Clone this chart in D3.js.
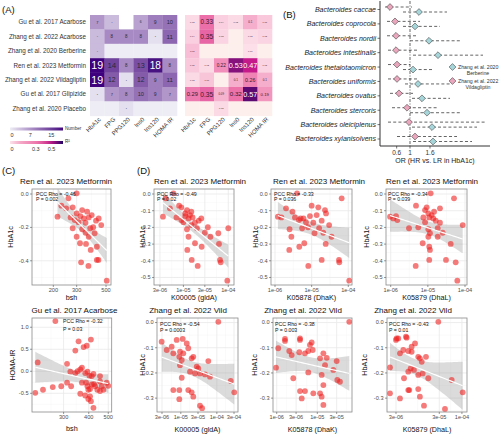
<!DOCTYPE html>
<html><head><meta charset="utf-8">
<script src="https://cdn.jsdelivr.net/npm/d3@7"></script>
<style>body{margin:0;background:#fff} svg{font-family:"Liberation Sans",Arial,sans-serif}</style>
</head><body><svg id="c" width="500" height="434"></svg>
<script>
// ---------------- DATA ----------------
const studies = ["Gu et al. 2017 Acarbose","Zhang et al. 2022 Acarbose","Zhang et al. 2020 Berberine","Ren et al. 2023 Metformin","Zhang et al. 2022 Vildagliptin","Gu et al. 2017 Glipizide","Zhang et al. 2020 Placebo"];
const measures = ["HbA1c","FPG","PPG120","Ins0","Ins120","HOMA IR"];
const numberValues = [
  [7,4,null,6,9,10],
  [4,8,8,8,1,11],
  [4,0,0,0,0,0],
  [19,14,8,13,18,8],
  [19,12,1,12,9,11],
  [1,7,8,10,9,7],
  [0,0,1,0,0,0]];
const r2Values = [
  [0.02,0.33,0.04,0.02,0.1,0.05],
  [0.04,0.35,0.03,null,0.02,0.03],
  [0.07,null,null,null,0.01,null],
  [0.05,0.02,0.22,0.53,0.47,0.03],
  [0.02,0.06,null,0.1,0.26,0.1],
  [0.29,0.35,0.09,0.32,0.57,0.19],
  [null,null,0.02,null,null,null]];
const numberLegendTicks = [0,7,15];
const r2LegendTicks = [0,0.3,0.5];

const taxa = ["Bacteroides caccae","Bacteroides coprocola","Bacteroides nordii","Bacteroides intestinalis","Bacteroides thetaiotaomicron","Bacteroides uniformis","Bacteroides ovatus","Bacteroides stercoris","Bacteroides oleiciplenus","Bacteroides xylanisolvens"];
const vildOR = [0.40,0.55,0.58,0.58,0.61,0.61,0.67,0.91,0.97,1.15];
const vildLo = [0.25,0.31,0.31,0.34,0.34,0.34,0.40,0.46,0.34,0.61];
const vildHi = [1.06,1.30,1.21,1.21,1.00,1.21,1.09,1.84,3.25,2.41];
const berbOR = [1.27,1.15,1.57,1.84,1.09,1.24,1.36,1.51,1.66,1.69];
const berbLo = [0.79,0.79,1.00,1.09,0.79,0.85,1.06,1.00,1.06,1.09];
const berbHi = [2.11,1.90,2.50,3.19,1.66,2.20,2.20,2.50,3.01,2.86];
const orTicks = [0.6,1,1.6];

// Ren et al. 2023 Metformin (shared HbA1c)
const renHbA1c = [0.004,-0.026,-0.070,-0.096,-0.080,-0.106,-0.086,-0.116,-0.126,-0.146,-0.160,-0.169,-0.140,-0.140,-0.172,-0.199,-0.211,-0.136,-0.146,-0.156,-0.132,-0.205,-0.205,-0.232,-0.186,-0.235,-0.256,-0.256,-0.295,-0.316,-0.335,-0.299,-0.431,-0.395,-0.395,-0.409,-0.519];
const renBsh = [300,260,230,330,280,360,250,300,390,340,420,310,270,370,350,400,330,215,440,290,320,280,380,350,460,410,300,370,318,426,383,353,368,426,438,324,506];
const renK00005 = [6e-6,4e-6,8e-6,1.2e-5,9e-6,1.5e-5,5e-6,1.1e-5,1.4e-5,1.3e-5,2.2e-5,1.0e-5,7e-6,1.6e-5,1.8e-5,3.5e-5,1.2e-5,3.5e-6,2.5e-5,9e-6,1.1e-5,2.0e-5,1.0e-4,3.0e-5,1.5e-5,6.0e-5,1.3e-5,4.0e-5,1.81e-5,2.55e-5,1.22e-5,6.2e-5,2.08e-5,1.53e-5,6.53e-5,6.77e-5,9.5e-5];
const renK05878 = [4e-6,6.6e-5,1.0e-5,2.31e-5,1.52e-5,3e-6,2e-6,2.47e-5,1.37e-5,5e-6,1.88e-5,7e-6,1.5e-6,3.5e-6,1.11e-5,8e-6,2.5e-6,1.2e-6,6e-6,4.5e-6,9e-6,1.6e-5,5.5e-6,2.08e-5,3e-5,1.2e-5,3.5e-5,2.8e-6,6.3e-6,4.6e-6,2.45e-6,2.42e-5,8.1e-6,1.88e-5,5.57e-5,5.67e-5,1.06e-4];
const renK05879 = [1.19e-5,5.06e-5,4.8e-6,8.4e-6,9.3e-6,1.47e-5,2.12e-5,1.03e-5,1.27e-5,1.4e-5,1.63e-5,8.4e-6,7.55e-6,1.09e-5,2.12e-5,5.53e-6,1.03e-5,9.6e-7,1.17e-6,1.51e-6,1.39e-6,3.11e-6,1.84e-5,2.51e-5,8.67e-5,1.14e-5,1.03e-5,1.84e-5,7.26e-6,1.09e-5,1.14e-5,4.12e-5,4.71e-6,1.09e-5,3.08e-5,5.62e-5,6.21e-5];

// Gu et al. 2017 Acarbose
const guBsh = [273,356,410,391,343,377,223,312,370,324,343,352,363,384,394,422,403,414,455,217,237,265,292,327,363,370,388,394,398,406,414,425,430,441,464,473,491,384,406,398,410,422,455,455,500,312];
const guHomaIR = [1.14,0.68,0.72,0.58,0.47,0.55,0.20,0.17,0.08,-0.01,-0.04,0.0,0.04,-0.04,-0.01,-0.06,-0.10,-0.11,-0.11,-0.49,-0.42,-0.36,-0.34,-0.34,-0.51,-0.26,-0.26,-0.34,-0.42,-0.40,-0.30,-0.29,-0.34,-0.42,-0.34,-0.42,-0.26,-0.55,-0.57,-0.63,-0.68,-0.83,-0.45,-0.23,-0.33,-0.26];

// Zhang et al. 2022 Vildagliptin  [abundance, HbA1c]
const zhangK00005 = [[2.94e-6,-0.076],[4.06e-6,-0.109],[5.57e-6,-0.096],[7.67e-6,-0.069],[1.13e-5,-0.065],[1.46e-5,-0.083],[1.61e-5,-0.102],[6.18e-6,-0.122],[9.5e-6,-0.116],[1.17e-5,-0.122],[9.08e-6,-0.136],[1.06e-5,-0.149],[2.0e-5,-0.142],[2.22e-5,-0.136],[9.5e-6,-0.169],[2.76e-5,-0.175],[3.05e-5,-0.182],[5.8e-5,-0.153],[1.8e-5,-0.195],[2.48e-5,-0.202],[3.41e-5,-0.202],[4.69e-5,-0.206],[6.46e-5,-0.215],[1.06e-5,-0.219],[2.43e-4,-0.232],[3.05e-4,-0.277],[6.18e-6,-0.268],[9.08e-6,-0.268],[1.61e-5,-0.268],[2.0e-5,-0.277],[9.08e-6,-0.304],[2.22e-5,-0.294],[3.41e-5,-0.330],[3.9e-5,-0.340],[1.1e-4,0.003]];
const zhangK05878 = [[9.6e-7,-0.179],[1.09e-6,-0.102],[1.6e-6,-0.073],[2.04e-6,-0.113],[2.34e-6,-0.129],[3.75e-6,-0.069],[3.6e-6,-0.118],[4.97e-6,-0.122],[6.0e-6,-0.113],[6.6e-6,-0.089],[7.27e-6,-0.079],[7.7e-6,-0.109],[2.56e-6,-0.221],[3.75e-6,-0.272],[4.97e-6,-0.272],[4.13e-6,-0.301],[7.97e-6,-0.281],[6.0e-6,-0.198],[1.17e-5,-0.142],[1.41e-5,-0.122],[1.71e-5,-0.140],[3.0e-5,-0.153],[1.55e-5,-0.169],[1.28e-5,-0.208],[2.48e-5,-0.188],[3.11e-5,-0.228],[3.62e-5,-0.235],[1.28e-5,-0.294],[1.41e-5,-0.327],[1.41e-5,-0.248],[1.17e-5,-0.281],[6.14e-5,0.003],[1.6e-6,-0.065],[3.75e-6,-0.063]];
const zhangK05879 = [[3.0e-6,-0.069],[3.39e-6,-0.063],[5.1e-6,-0.056],[6.9e-6,-0.096],[8.25e-6,-0.083],[5.77e-6,-0.113],[4.42e-6,-0.109],[3.71e-6,-0.122],[6.9e-6,-0.116],[9.8e-6,-0.136],[1.07e-5,-0.142],[1.48e-5,-0.136],[1.18e-5,-0.156],[2.18e-6,-0.178],[6.55e-6,-0.182],[7.8e-6,-0.188],[4.6e-6,-0.221],[5.77e-6,-0.195],[9.8e-6,-0.208],[1.24e-5,-0.202],[1.67e-5,-0.221],[5.77e-6,-0.268],[6.08e-6,-0.268],[3.71e-6,-0.301],[2.18e-6,-0.281],[1.07e-5,-0.294],[1.33e-5,-0.330],[9.8e-6,-0.264],[4.06e-5,-0.343],[1.04e-4,-0.277],[5.8e-5,-0.228],[2.85e-5,0.003],[3.1e-6,-0.063],[5.3e-6,-0.060]];

// ---------------- DRAW ----------------
const svg = d3.select("#c");
const fmtSigned = d => (Math.abs(d) < 1e-9 ? "0.0" : d3.format(".1f")(d).replace("\u2212","-"));
const fmtExp = d => { const e = d.toExponential(0); const m = e.match(/^(\d)e([+-])(\d+)$/); return m[1]+"e"+m[2]+(m[3].length<2?"0"+m[3]:m[3]); };

function panelLabel(t,x,y){ svg.append("text").attr("x",x).attr("y",y).attr("font-size",9.5).attr("fill","#111").text(t); }
panelLabel("(A)",2,13); panelLabel("(B)",283,18); panelLabel("(C)",2,174); panelLabel("(D)",137,174);

// ---- Panel A heatmaps ----
const cellW = 14.5, cellH = 14.4, hmTop = 15;
const yRow = d3.scaleBand().domain(studies).range([hmTop, hmTop + studies.length*cellH]);
const xNum = d3.scaleBand().domain(measures).range([90, 90 + measures.length*cellW]);
const xR2 = d3.scaleBand().domain(measures).range([185, 185 + measures.length*cellW]);
const numColor = d3.scaleLinear().domain([0,19]).range(["#eeedf5","#3f007d"]).interpolate(d3.interpolateLab);
const r2Color = d3.scaleLinear().domain([0,0.1,0.33,0.47,0.57]).range(["#fce4ec","#f5aecb","#ec6fa9","#c51b8a","#5c0a72"]).interpolate(d3.interpolateLab);

const gA = svg.append("g");
gA.selectAll("text.row").data(studies).join("text").attr("class","row")
  .attr("x",86).attr("y",d=>yRow(d)+cellH/2).attr("dy","0.35em").attr("text-anchor","end")
  .attr("font-size",6.3).attr("fill","#333").text(d=>d);

studies.forEach((s,i)=>{
  measures.forEach((m,j)=>{
    const v = numberValues[i][j];
    gA.append("rect").attr("x",xNum(m)).attr("y",yRow(s)).attr("width",cellW+0.3).attr("height",cellH+0.3)
      .attr("fill", v==null ? "#ffffff" : numColor(v));
    if (v!=null && v>0) gA.append("text").attr("x",xNum(m)+cellW/2).attr("y",yRow(s)+cellH/2).attr("dy","0.36em")
      .attr("text-anchor","middle").attr("font-size",Math.max(2.2,0.56*v)).attr("fill", v>=15?"#fff":"#2a2a3a").text(v);
    const r = r2Values[i][j];
    gA.append("rect").attr("x",xR2(m)).attr("y",yRow(s)).attr("width",cellW+0.3).attr("height",cellH+0.3)
      .attr("fill", r==null ? "#fdf0ec" : r2Color(r));
    if (r!=null) gA.append("text").attr("x",xR2(m)+cellW/2).attr("y",yRow(s)+cellH/2).attr("dy","0.36em")
      .attr("text-anchor","middle").attr("font-size",Math.min(7.3,Math.max(2.2,1.4+15*r))).attr("fill", r>=0.45?"#fff":"#3a1a2a").text(String(+r.toFixed(2)));
  });
});
const hmBottom = hmTop + studies.length*cellH;
[xNum,xR2].forEach(xs=>{
  gA.selectAll(null).data(measures).join("text")
    .attr("transform",d=>`translate(${xs(d)+cellW/2+4},${hmBottom+4}) rotate(-45)`)
    .attr("text-anchor","end").attr("font-size",6).attr("fill","#333").text(d=>d);
});
// legends
const defs = svg.append("defs");
function gradLegend(id, scale, domMax, y, ticks, title, tickFmt){
  const lg = defs.append("linearGradient").attr("id",id);
  d3.range(0,1.0001,0.1).forEach(t=>lg.append("stop").attr("offset",t).attr("stop-color",scale(t*domMax)));
  const lx = d3.scaleLinear().domain([0,domMax]).range([12,61]);
  svg.append("rect").attr("x",10).attr("y",y).attr("width",53).attr("height",3).attr("fill",`url(#${id})`);
  svg.append("text").attr("x",65).attr("y",y+2).attr("font-size",4.6).attr("fill","#333").text(title);
  svg.selectAll(null).data(ticks).join("text").attr("x",d=>lx(d)).attr("y",y+9.5).attr("text-anchor","middle")
    .attr("font-size",5.5).attr("fill","#333").text(tickFmt);
}
gradLegend("gNum", numColor, 18.7, 127.5, numberLegendTicks, "Number", d=>d);
gradLegend("gR2", r2Color, 0.62, 141, r2LegendTicks, "R\u00b2", d=>d===0?"0":String(d));

// ---- Panel B forest ----
const gB = svg.append("g");
const bx = d3.scaleLinear().domain([0.1,3.4]).range([380,490]);
const by = d3.scalePoint().domain(taxa).range([9.5,139]);
const bTop = 1, bBottom = 146;
gB.append("line").attr("x1",bx(1)).attr("x2",bx(1)).attr("y1",bTop).attr("y2",bBottom)
  .attr("stroke","#222").attr("stroke-width",0.7).attr("stroke-dasharray","3,1.5,1,1.5");
function diamond(r){ return `M0,${-r}L${r},0L0,${r}L${-r},0Z`; }
taxa.forEach((t,i)=>{
  const yv = by(t)-2.5, yb = by(t)+2.5;
  gB.append("line").attr("x1",bx(vildLo[i])).attr("x2",bx(vildHi[i])).attr("y1",yv).attr("y2",yv)
    .attr("stroke","#222").attr("stroke-width",0.7).attr("stroke-dasharray","3,2.2");
  gB.append("line").attr("x1",bx(berbLo[i])).attr("x2",bx(berbHi[i])).attr("y1",yb).attr("y2",yb)
    .attr("stroke","#222").attr("stroke-width",0.7).attr("stroke-dasharray","3,2.2");
  gB.append("path").attr("d",diamond(3.4)).attr("transform",`translate(${bx(vildOR[i])},${yv})`)
    .attr("fill","#e9a6bd").attr("stroke","#444").attr("stroke-width",0.6);
  gB.append("path").attr("d",diamond(3.4)).attr("transform",`translate(${bx(berbOR[i])},${yb})`)
    .attr("fill","#a6d6da").attr("stroke","#444").attr("stroke-width",0.6);
});
gB.append("line").attr("x1",380).attr("x2",380).attr("y1",bTop).attr("y2",bBottom).attr("stroke","#333").attr("stroke-width",1);
gB.append("line").attr("x1",380).attr("x2",490).attr("y1",bBottom).attr("y2",bBottom).attr("stroke","#333").attr("stroke-width",1);
gB.selectAll(null).data(taxa).join("line").attr("x1",377.5).attr("x2",380).attr("y1",d=>by(d)).attr("y2",d=>by(d)).attr("stroke","#333").attr("stroke-width",0.7);
gB.selectAll(null).data(taxa).join("text").attr("x",376).attr("y",d=>by(d)).attr("dy","0.35em").attr("text-anchor","end")
  .attr("font-size",7).attr("font-style","italic").attr("fill","#222").text(d=>d);
gB.selectAll(null).data(orTicks).join("line").attr("x1",d=>bx(d)).attr("x2",d=>bx(d)).attr("y1",bBottom).attr("y2",bBottom+2.5).attr("stroke","#333").attr("stroke-width",0.7);
gB.selectAll(null).data(orTicks).join("text").attr("x",d=>bx(d)).attr("y",152.7).attr("dy","0.35em").attr("text-anchor","middle")
  .attr("font-size",6.5).attr("fill","#333").text(d=>d);
gB.append("text").attr("x",435).attr("y",161).attr("dy","0.35em").attr("text-anchor","middle").attr("font-size",7).attr("fill","#222").text("OR (HR vs. LR in HbA1c)");
// legend
[[67,"#a6d6da","Zhang et al. 2020","Berberine"],[81,"#e9a6bd","Zhang et al. 2022","Vildagliptin"]].forEach(([y,c,l1,l2])=>{
  gB.append("path").attr("d",diamond(3.4)).attr("transform",`translate(${452.5},${y})`).attr("fill",c).attr("stroke","#444").attr("stroke-width",0.6);
  gB.append("text").attr("x",458).attr("y",y).attr("dy","0.35em").attr("font-size",5.2).attr("fill","#333").text(l1);
  gB.append("text").attr("x",478).attr("y",y+6.5).attr("dy","0.35em").attr("text-anchor","middle").attr("font-size",5.2).attr("fill","#333").text(l2);
});

// ---- scatter panels ----
let clipId = 0;
function scatter(cfg){
  const g = svg.append("g");
  const [x0,x1,y0,y1] = cfg.box;
  const xs = d3.scaleLog().domain(cfg.xDomain).range([x0,x1]);
  const ys = d3.scaleLinear().domain(cfg.yDomain).range([y1,y0]);
  const L = Math.log;
  const xt = cfg.xTicks, yt = cfg.yTicks;
  const xMinor = [];
  for (let i=0;i<xt.length-1;i++) xMinor.push(Math.exp((L(xt[i])+L(xt[i+1]))/2));
  if (xt.length>1){
    const a = Math.exp(L(xt[0]) - (L(xt[1])-L(xt[0]))/2); if (a>cfg.xDomain[0]) xMinor.push(a);
    const n = xt.length; const b = Math.exp(L(xt[n-1]) + (L(xt[n-1])-L(xt[n-2]))/2); if (b<cfg.xDomain[1]) xMinor.push(b);
  }
  const yStep = yt[1]-yt[0];
  const yMinor = [];
  for (let v=yt[0]-yStep/2; v<=cfg.yDomain[1]; v+=yStep) if (v>=cfg.yDomain[0]) yMinor.push(v);
  g.selectAll(null).data(xMinor).join("line").attr("x1",d=>xs(d)).attr("x2",d=>xs(d)).attr("y1",y0).attr("y2",y1).attr("stroke","#f4f4f4").attr("stroke-width",0.5);
  g.selectAll(null).data(yMinor).join("line").attr("y1",d=>ys(d)).attr("y2",d=>ys(d)).attr("x1",x0).attr("x2",x1).attr("stroke","#f4f4f4").attr("stroke-width",0.5);
  g.selectAll(null).data(xt).join("line").attr("x1",d=>xs(d)).attr("x2",d=>xs(d)).attr("y1",y0).attr("y2",y1).attr("stroke","#e8e8e8").attr("stroke-width",0.8);
  g.selectAll(null).data(yt).join("line").attr("y1",d=>ys(d)).attr("y2",d=>ys(d)).attr("x1",x0).attr("x2",x1).attr("stroke","#e8e8e8").attr("stroke-width",0.8);
  const pts = cfg.x.map((v,i)=>[v,cfg.y[i]]);
  const us = pts.map(p=>L(p[0])), vs = pts.map(p=>p[1]);
  const n = pts.length, ub = d3.mean(us), vb = d3.mean(vs);
  let sxx=0,sxy=0; us.forEach((u,i)=>{sxx+=(u-ub)**2; sxy+=(u-ub)*(vs[i]-vb);});
  const b = sxy/sxx, a = vb - b*ub;
  let sse=0; us.forEach((u,i)=>{sse+=(vs[i]-a-b*u)**2;});
  const s = Math.sqrt(sse/(n-2)), t = 1.96 + 2.4/(n-2);
  const [umin,umax] = d3.extent(us);
  const band = d3.range(0,41).map(k=>{const u=umin+(umax-umin)*k/40; const f=a+b*u; const se=s*Math.sqrt(1/n+(u-ub)**2/sxx); return [u,f-t*se,f+t*se,f];});
  const id = "clip"+(clipId++);
  defs.append("clipPath").attr("id",id).append("rect").attr("x",x0).attr("y",y0).attr("width",x1-x0).attr("height",y1-y0);
  const gc = g.append("g").attr("clip-path",`url(#${id})`);
  gc.append("path").attr("d",d3.area().x(d=>xs(Math.exp(d[0]))).y0(d=>ys(d[1])).y1(d=>ys(d[2]))(band)).attr("fill","#999").attr("fill-opacity",0.35);
  gc.selectAll("circle").data(pts).join("circle").attr("cx",d=>xs(d[0])).attr("cy",d=>ys(d[1])).attr("r",2.9)
    .attr("fill","#ee2222").attr("fill-opacity",0.6);
  gc.append("path").attr("d",d3.line().x(d=>xs(Math.exp(d[0]))).y(d=>ys(d[3]))(band)).attr("fill","none").attr("stroke","#fff").attr("stroke-width",1.2);
  g.append("rect").attr("x",x0).attr("y",y0).attr("width",x1-x0).attr("height",y1-y0).attr("fill","none").attr("stroke","#8a8a8a").attr("stroke-width",0.8);
  g.selectAll(null).data(xt).join("line").attr("x1",d=>xs(d)).attr("x2",d=>xs(d)).attr("y1",y1).attr("y2",y1+2).attr("stroke","#555").attr("stroke-width",0.6);
  g.selectAll(null).data(yt).join("line").attr("y1",d=>ys(d)).attr("y2",d=>ys(d)).attr("x1",x0-2).attr("x2",x0).attr("stroke","#555").attr("stroke-width",0.6);
  g.selectAll(null).data(xt).join("text").attr("x",d=>xs(d)).attr("y",y1+5.5).attr("dy","0.35em").attr("text-anchor","middle")
    .attr("font-size",5.6).attr("fill","#4d4d4d").text(cfg.xFmt);
  g.selectAll(null).data(yt).join("text").attr("x",x0-3.5).attr("y",d=>ys(d)).attr("dy","0.35em").attr("text-anchor","end")
    .attr("font-size",5.6).attr("fill","#4d4d4d").text(fmtSigned);
  g.append("text").attr("x",cfg.titleX).attr("y",y0-8).attr("dy","0.35em").attr("text-anchor","middle").attr("font-size",8).attr("fill","#111").text(cfg.title);
  g.append("text").attr("x",(x0+x1)/2).attr("y",cfg.xLabelY).attr("dy","0.35em").attr("text-anchor","middle").attr("font-size",7.2).attr("fill","#111").text(cfg.xLabel);
  g.append("text").attr("transform",`translate(${cfg.yLabelX},${(y0+y1)/2}) rotate(-90)`).attr("dy","0.35em").attr("text-anchor","middle").attr("font-size",7.2).attr("fill","#111").text(cfg.yLabel);
  cfg.stats.forEach((st,k)=>g.append("text").attr("x",cfg.statX).attr("y",cfg.statY[k]).attr("dy","0.35em").attr("font-size",5.2).attr("fill","#111").text(st));
}
const plain = d=>String(d);
const TOP=[189,285], BOT=[318,412];
const yTopDom=[-0.545,0.03], yBotDom=[-0.355,0.018];
scatter({box:[32,111,...TOP], xDomain:[138,545], xTicks:[200,300,500], xFmt:plain, yDomain:yTopDom, yTicks:[-0.4,-0.2,0],
  x:renBsh, y:renHbA1c, title:"Ren et al. 2023 Metformin", titleX:66, xLabel:"bsh", xLabelY:297.5, yLabel:"HbA1c", yLabelX:10,
  stats:["PCC Rho = -0.46","P = 0.002"], statX:36, statY:[194,199.5]});
scatter({box:[32,111.7,...BOT], xDomain:[209,520], xTicks:[300,400,500], xFmt:plain, yDomain:[-0.925,1.21], yTicks:[-0.5,0,0.5,1.0],
  x:guBsh, y:guHomaIR, title:"Gu et al. 2017 Acarbose", titleX:74.5, xLabel:"bsh", xLabelY:428, yLabel:"HOMA-IR", yLabelX:12,
  stats:["PCC Rho = -0.32","P = 0.03"], statX:63, statY:[320.7,329]});
scatter({box:[154,234,...TOP], xDomain:[2.21e-6,1.34e-4], xTicks:[3e-6,1e-5,3e-5,1e-4], xFmt:fmtExp, yDomain:yTopDom, yTicks:[-0.5,-0.4,-0.3,-0.2,-0.1,0],
  x:renK00005, y:renHbA1c, title:"Ren et al. 2023 Metformin", titleX:200, xLabel:"K00005 (gldA)", xLabelY:297.5, yLabel:"HbA1c", yLabelX:142,
  stats:["PCC Rho = -0.49","P = 0.02"], statX:157, statY:[194,199.5]});
scatter({box:[271,352,...TOP], xDomain:[7.78e-7,1.262e-4], xTicks:[1e-6,1e-5,1e-4], xFmt:fmtExp, yDomain:yTopDom, yTicks:[-0.5,-0.4,-0.3,-0.2,-0.1,0],
  x:renK05878, y:renHbA1c, title:"Ren et al. 2023 Metformin", titleX:319, xLabel:"K05878 (DhaK)", xLabelY:297.5, yLabel:"HbA1c", yLabelX:255,
  stats:["PCC Rho = -0.33","P = 0.036"], statX:274, statY:[194,199.5]});
scatter({box:[386,467,...TOP], xDomain:[7.47e-7,1.132e-4], xTicks:[1e-6,1e-5,1e-4], xFmt:fmtExp, yDomain:yTopDom, yTicks:[-0.5,-0.4,-0.3,-0.2,-0.1,0],
  x:renK05879, y:renHbA1c, title:"Ren et al. 2023 Metformin", titleX:432, xLabel:"K05879 (DhaL)", xLabelY:297.5, yLabel:"HbA1c", yLabelX:366,
  stats:["PCC Rho = -0.34","P = 0.039"], statX:388, statY:[194,199.5]});
scatter({box:[157,238,...BOT], xDomain:[2.18e-6,3.87e-4], xTicks:[3e-6,1e-5,3e-5,1e-4,3e-4], xFmt:fmtExp, yDomain:yBotDom, yTicks:[-0.3,-0.2,-0.1,0],
  x:zhangK00005.map(d=>d[0]), y:zhangK00005.map(d=>d[1]), title:"Zhang et al. 2022 Vild", titleX:188, xLabel:"K00005 (gldA)", xLabelY:429, yLabel:"HbA1c", yLabelX:142,
  stats:["PCC Rho = -0.54","P = 0.0003"], statX:160, statY:[324,330]});
scatter({box:[273,352,...BOT], xDomain:[8.1e-7,7.16e-5], xTicks:[1e-6,3e-6,1e-5,3e-5], xFmt:fmtExp, yDomain:yBotDom, yTicks:[-0.3,-0.2,-0.1,0],
  x:zhangK05878.map(d=>d[0]), y:zhangK05878.map(d=>d[1]), title:"Zhang et al. 2022 Vild", titleX:303, xLabel:"K05878 (DhaK)", xLabelY:429, yLabel:"HbA1c", yLabelX:254,
  stats:["PCC Rho = -0.38","P = 0.003"], statX:275, statY:[324,330]});
scatter({box:[387,467,...BOT], xDomain:[1.86e-6,1.31e-4], xTicks:[3e-6,3e-5,1e-4], xFmt:fmtExp, yDomain:yBotDom, yTicks:[-0.3,-0.2,-0.1,0],
  x:zhangK05879.map(d=>d[0]), y:zhangK05879.map(d=>d[1]), title:"Zhang et al. 2022 Vild", titleX:413, xLabel:"K05879 (DhaL)", xLabelY:429, yLabel:"HbA1c", yLabelX:364,
  stats:["PCC Rho = -0.43","P = 0.01"], statX:389, statY:[324,330]});
</script></body></html>
